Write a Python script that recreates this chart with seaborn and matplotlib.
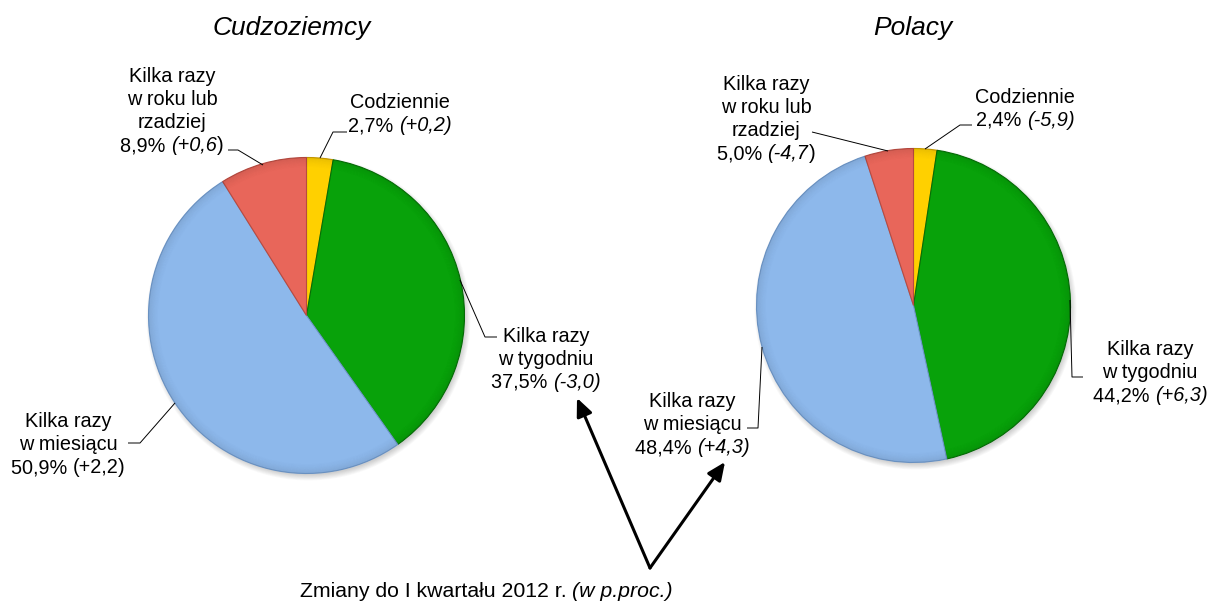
import numpy as np
import pandas as pd
import matplotlib
matplotlib.use("Agg")
import matplotlib.pyplot as plt
import seaborn as sns
from matplotlib.patches import Circle, Wedge

# ---------------- data ----------------
categories = ["Codziennie", "Kilka razy w tygodniu",
              "Kilka razy w miesiącu", "Kilka razy w roku lub rzadziej"]
category_lines = [["Codziennie"],
                  ["Kilka razy", "w tygodniu"],
                  ["Kilka razy", "w miesiącu"],
                  ["Kilka razy", "w roku lub", "rzadziej"]]
group_titles = ["Cudzoziemcy", "Polacy"]
foreigners_share = [2.7, 37.5, 50.9, 8.9]
poles_share = [2.4, 44.2, 48.4, 5.0]
foreigners_change = ["+0,2", "-3,0", "+2,2", "+0,6"]
poles_change = ["-5,9", "+6,3", "+4,3", "-4,7"]
footnote_main = "Zmiany do I kwartału 2012 r."
footnote_unit = "(w p.proc.)"

# ---------------- style ----------------
sns.set_theme(style="white")
plt.rcParams["font.family"] = ["Liberation Sans", "DejaVu Sans"]
palette = sns.color_palette(["#FFD000", "#08A20A", "#8DB8EB", "#E8665A"])
edge_cols = ["#C89A00", "#056E06", "#6E97C9", "#B84A40"]

W, H = 1210, 604
fig = plt.figure(figsize=(W / 100, H / 100), dpi=100)
ax = fig.add_axes([0, 0, 1, 1])
ax.set_xlim(0, W)
ax.set_ylim(0, H)
ax.set_aspect("equal")
ax.axis("off")

def Y(y):
    return H - y

FS = 14.3
FS_FOOT = 15.3
PITCH = 23

# italic flags for "(change" and ")" of each label
paren_style = [
    [(True, True), (True, True), (False, False), (True, False)],
    [(True, True), (True, True), (True, True), (True, False)],
]

pies = [
    dict(share=foreigners_share, change=foreigners_change, c=(306.5, 315.5), r=158,
         title=(292, 28),
         label_pos=[(400, 108), (546, 342), (68, 427), (172, 82)],
         leaders=[[(347, 132), (333, 132), (320, 158)],
                  [(497, 337), (485, 337), (460, 280)],
                  [(128, 443), (140, 443), (175, 403)],
                  [(228, 150), (238, 150), (263, 165)]]),
    dict(share=poles_share, change=poles_change, c=(913.5, 305.5), r=157,
         title=(913, 28),
         label_pos=[(1025, 103), (1150, 355), (692, 407), (766, 90)],
         leaders=[[(972, 125), (960, 125), (925, 149)],
                  [(1070, 300), (1072, 377), (1083, 377)],
                  [(747, 428), (758, 428), (762, 347)],
                  [(812, 132), (888, 151)]]),
]

renderer = fig.canvas.get_renderer()

def text_width(s, size, italic=False):
    t = ax.text(0, 0, s, fontsize=size, fontstyle="italic" if italic else "normal")
    w = t.get_window_extent(renderer).width
    t.remove()
    return w

def advance(s, size):
    if not s:
        return 0.0
    return text_width(s + "|", size) - text_width("|", size)

def mixed_line(x, y, segments, size=FS, align="center"):
    full = "".join(s for s, _ in segments)
    total = text_width(full, size)
    x0 = x - total / 2 if align == "center" else x
    prefix = ""
    for s, it in segments:
        ax.text(x0 + advance(prefix, size), Y(y), s, fontsize=size,
                fontstyle="italic" if it else "normal",
                ha="left", va="baseline", color="black")
        prefix += s

for gi, p in enumerate(pies):
    cx, cy = p["c"]
    r = p["r"]
    # soft shadow
    for k in range(8):
        ax.add_patch(Circle((cx + 2, Y(cy) - 3), r + 4 - k * 0.8,
                            color="black", alpha=0.025, lw=0, zorder=1))
    wedges, _ = ax.pie(p["share"], colors=palette, startangle=90, counterclock=False,
                       center=(cx, Y(cy)), radius=r, frame=True,
                       wedgeprops=dict(linewidth=0.8))
    for w, ec in zip(wedges, edge_cols):
        w.set_edgecolor(ec)
        w.set_zorder(2)
    # bevel: darken towards the rim
    nrings = 12
    for k in range(nrings):
        ax.add_patch(Wedge((cx, Y(cy)), r - k * 0.9, 0, 360, width=0.9,
                           color="black", alpha=0.08 * (1 - k / nrings) ** 1.5,
                           lw=0, zorder=3))
    ax.set_xlim(0, W)
    ax.set_ylim(0, H)
    ax.axis("off")

    tx, ty = p["title"]
    ax.text(tx, Y(ty), group_titles[gi], fontsize=19, fontstyle="italic",
            ha="center", va="center", color="black")

    for i in range(len(categories)):
        lx, ly = p["label_pos"][i]
        lines = category_lines[i]
        for j, ln in enumerate(lines):
            mixed_line(lx, ly + j * PITCH, [(ln, False)])
        val = f"{p['share'][i]:.1f}".replace(".", ",") + "%"
        op_it, cl_it = paren_style[gi][i]
        mixed_line(lx, ly + len(lines) * PITCH,
                   [(val + " ", False), ("(" + p["change"][i], op_it), (")", cl_it)])
        pts = p["leaders"][i]
        ax.plot([q[0] for q in pts], [Y(q[1]) for q in pts], color="black", lw=0.7,
                zorder=4, solid_capstyle="butt")

# arrows
for target in [(577, 398), (725, 462)]:
    ax.annotate("", xy=(target[0], Y(target[1])), xytext=(650, Y(568)),
                arrowprops=dict(arrowstyle="-|>,head_length=0.9,head_width=0.4",
                                color="black", lw=2.2, shrinkA=0, shrinkB=0))

# footnote
mixed_line(300, 597, [(footnote_main + " ", False), (footnote_unit, True)],
           size=FS_FOOT, align="left")

fig.savefig("out.png", dpi=100)
